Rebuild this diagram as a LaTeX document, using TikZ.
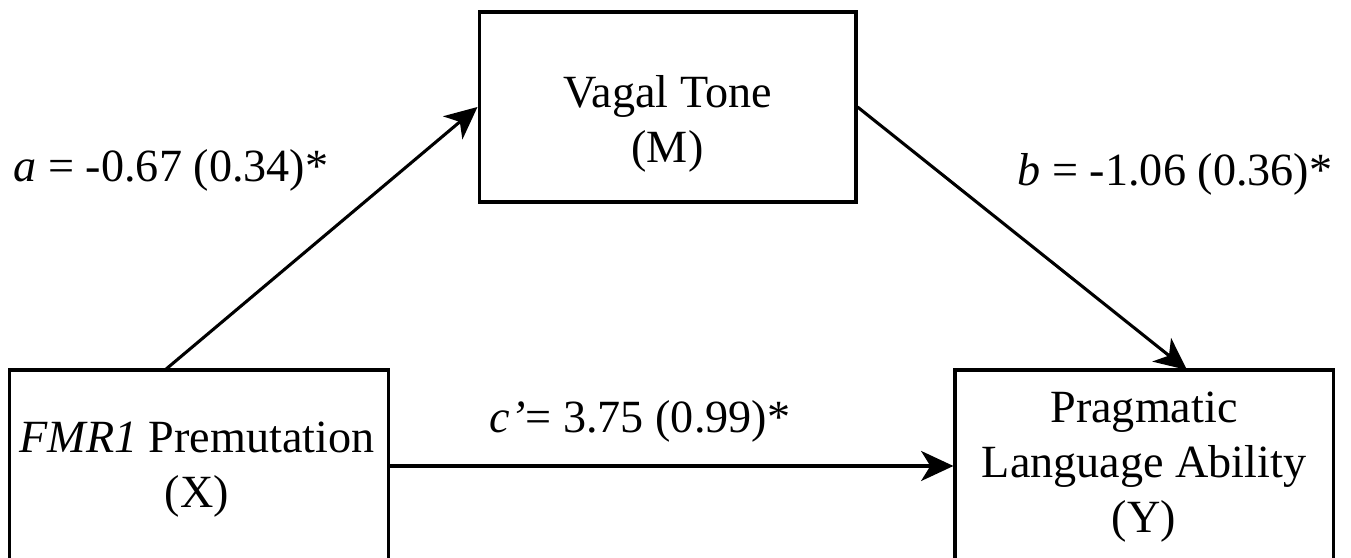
\documentclass[tikz,border=0pt]{standalone}
\usepackage{fontspec}
\setmainfont{Liberation Serif}
\usetikzlibrary{arrows.meta}

\begin{document}
\begin{tikzpicture}[x=0.26pt, y=-0.26pt, font=\fontsize{12}{14.3}\selectfont,
  varbox/.style={draw, line width=0.8pt, rectangle, inner sep=0pt},
  vartext/.style={align=center, inner sep=0pt},
  coef/.style={inner sep=0pt},
  effect/.style={line width=0.8pt, -{Stealth[length=8.4pt, width=7.8pt, inset=2.4pt]}}]
\useasboundingbox (0,0) rectangle (1351,558);
% ---------- M: mediator on top ----------
\node[varbox, minimum width=98pt, minimum height=49.4pt] (M) at (667.5,107) {};
\node[vartext] (Mtext) at (667.5,124) {Vagal Tone\\(M)};
% ---------- X and Y: bottom row ----------
\node[varbox, minimum width=98.3pt, minimum height=49.4pt] (X) at (199,465) {};
\node[vartext] (Xtext) at (197,470) {\textit{FMR1} Premutation\\(X)};
\node[varbox, minimum width=98.3pt, minimum height=49.4pt] (Y) at (1144,465) {};
\node[vartext] (Ytext) at (1144,467) {Pragmatic\\Language Ability\\(Y)};
% ---------- paths ----------
\coordinate (aStart) at (165,370);
\coordinate (bEnd) at (1187,370);
\draw[effect] (aStart) -- (M.west);
\draw[effect] (M.east) -- (bEnd);
\draw[effect] ([yshift=-0.26pt]X.east) -- ([yshift=-0.26pt]Y.west);
% ---------- coefficients ----------
\node[coef, anchor=base west] (alab) at (13,182) {\textit{a} = -0.67 (0.34)*};
\node[coef, anchor=base east] (blab) at (1333,186) {\textit{b} = -1.06 (0.36)*};
\node[coef, anchor=base] (clab) at (640,433) {\textit{c’}= 3.75 (0.99)*};
\end{tikzpicture}
\end{document}
